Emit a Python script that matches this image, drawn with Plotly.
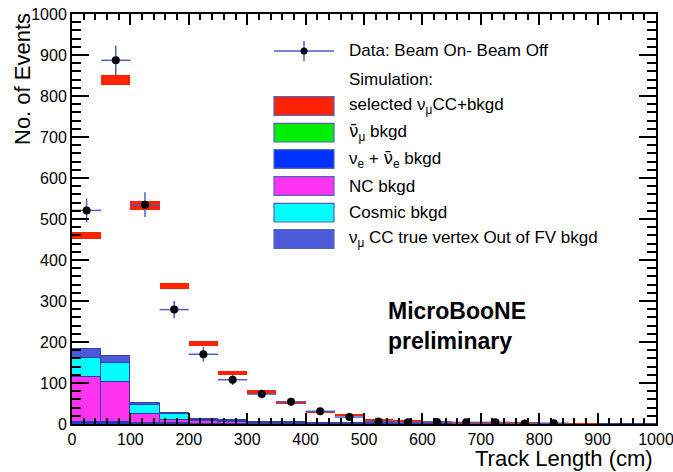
import plotly.graph_objects as go

# ---- binning: 20 bins of 50 cm from 0 to 1000 cm ----
bin_width = 50
bin_centers = [25 + 50 * i for i in range(20)]

# ---- stacked simulated backgrounds (events per bin), bottom to top ----
numubar_bkgd = [1, 1, 0.5, 0.3, 0.2, 0.2, 0.1, 0.1, 0.1, 0.1, 0, 0, 0, 0, 0, 0, 0, 0, 0, 0]
nue_bkgd = [3, 3, 1, 1, 1, 1, 0.5, 0.5, 0.4, 0.3, 0.3, 0.2, 0.2, 0.2, 0.1, 0.1, 0.1, 0, 0, 0]
nc_bkgd = [110, 99, 22, 8, 5, 3, 2, 1.5, 1, 1, 0.5, 0.5, 0.4, 0.3, 0.3, 0.2, 0.2, 0.1, 0.1, 0]
cosmic_bkgd = [47, 47, 22, 15, 4, 3, 2, 1, 1, 1, 0.5, 0.5, 0.4, 0.3, 0.3, 0.2, 0.2, 0.1, 0.1, 0]
oofv_bkgd = [22, 17, 6, 3, 3, 2, 1.5, 1, 1, 1, 0.5, 0.5, 0.4, 0.3, 0.3, 0.2, 0.2, 0.1, 0.1, 0]

# ---- total simulation (selected numu CC + bkgd) and its uncertainty ----
mc_total = [460, 840, 534, 336, 197, 124, 78, 52, 29, 22, 11, 8, 5, 3, 2, 1.5, 1, 0.5, 0, 0]
mc_error = [9, 12, 11, 7, 6, 5, 4, 3, 3, 3, 2, 2, 2, 1.5, 1.5, 1, 1, 1, 0, 0]

# ---- data: Beam On - Beam Off ----
data_centers = bin_centers[:17]
data_values = [521, 887, 535, 279, 170, 108, 73, 54, 31, 17, 6, 4, 5, 4, 4, 1, 2]
data_errors = [29, 36, 30, 21, 18, 13, 11, 9, 7, 6, 4, 4, 3, 3, 3, 2, 2]

# ---- styles ----
C_NUMUBAR = "#00ee00"
C_NUE = "#0033ff"
C_NC = "#ff33f0"
C_COSMIC = "#00ffff"
C_OOFV = "#4b5ad8"
C_RED = "#ff2200"
C_EDGE = "#2f3fa8"
C_DATA_BAR = "#4a5fc4"
FONT = "Liberation Sans, Arial, sans-serif"
NUBAR = '<span style="font-family:DejaVu Sans">ν̄</span>'

fig = go.Figure()

stack = [
    (numubar_bkgd, C_NUMUBAR),
    (nue_bkgd, C_NUE),
    (nc_bkgd, C_NC),
    (cosmic_bkgd, C_COSMIC),
    (oofv_bkgd, C_OOFV),
]
base = [0.0] * len(bin_centers)
for values, color in stack:
    fig.add_trace(go.Bar(
        x=bin_centers, y=values, base=list(base), width=bin_width,
        marker=dict(color=color, line=dict(color=C_EDGE, width=1)),
        showlegend=False,
    ))
    base = [b + v for b, v in zip(base, values)]

# total simulation drawn as an error band
fig.add_trace(go.Bar(
    x=bin_centers,
    y=[2 * e if e > 0 else 0 for e in mc_error],
    base=[t - e for t, e in zip(mc_total, mc_error)],
    width=bin_width,
    marker=dict(color=C_RED, line=dict(width=0)),
    showlegend=False,
))

# data points with bin-width horizontal bars
fig.add_trace(go.Scatter(
    x=data_centers, y=data_values, mode="markers",
    marker=dict(color="black", size=8),
    error_y=dict(type="data", array=data_errors, color=C_DATA_BAR, thickness=1.5, width=0),
    error_x=dict(type="constant", value=bin_width / 2, color=C_DATA_BAR, thickness=1.5, width=0),
    showlegend=False,
))

# ---- plot frame geometry (pixels) ----
L, R, T, B = 72, 656, 14, 424
W, H = R - L, B - T


def px(x):
    return (x - L) / W


def py(y):
    return (B - y) / H


shapes = []
annotations = []

# legend
leg_x0, leg_x1, text_x = 274, 334, 347
leg_font = dict(family=FONT, size=17, color="black")
# data entry
shapes.append(dict(type="line", xref="paper", yref="paper", x0=px(leg_x0), x1=px(leg_x1),
                   y0=py(51), y1=py(51), line=dict(color=C_DATA_BAR, width=1.5)))
shapes.append(dict(type="line", xref="paper", yref="paper", x0=px(304), x1=px(304),
                   y0=py(41), y1=py(61), line=dict(color=C_DATA_BAR, width=1.5)))
shapes.append(dict(type="circle", xref="paper", yref="paper", x0=px(300.5), x1=px(307.5),
                   y0=py(47.5), y1=py(54.5), fillcolor="black", line=dict(color="black", width=0)))
legend_rows = [
    (51, None, "Data: Beam On- Beam Off"),
    (79, None, "Simulation:"),
    (106, C_RED, "selected ν<sub>μ</sub>CC+bkgd"),
    (132.7, C_NUMUBAR, NUBAR + "<sub>μ</sub> bkgd"),
    (159, C_NUE, "ν<sub>e</sub> + " + NUBAR + "<sub>e</sub> bkgd"),
    (186, C_NC, "NC bkgd"),
    (212.7, C_COSMIC, "Cosmic bkgd"),
    (239, C_OOFV, "ν<sub>μ</sub> CC true vertex Out of FV bkgd"),
]
for yc, color, label in legend_rows:
    if color is not None:
        shapes.append(dict(type="rect", xref="paper", yref="paper",
                           x0=px(leg_x0), x1=px(leg_x1), y0=py(yc + 9.3), y1=py(yc - 9.3),
                           fillcolor=color, line=dict(color="#5560c0", width=1.2)))
    annotations.append(dict(xref="paper", yref="paper", x=px(text_x), y=py(yc),
                            xanchor="left", yanchor="middle", text=label, showarrow=False,
                            font=leg_font))

# experiment label
annotations.append(dict(xref="paper", yref="paper", x=px(386), y=py(326),
                        xanchor="left", yanchor="middle", align="left", showarrow=False,
                        text="<b>MicroBooNE</b><br><b>preliminary</b>",
                        font=dict(family=FONT, size=23, color="black")))

# axis titles
annotations.append(dict(xref="paper", yref="paper", x=px(655), y=py(458),
                        xanchor="right", yanchor="middle", text="Track Length (cm)",
                        showarrow=False, font=dict(family=FONT, size=22, color="black")))
annotations.append(dict(xref="paper", yref="paper", x=px(22), y=py(79),
                        xanchor="center", yanchor="middle", text="No. of Events", textangle=-90,
                        showarrow=False, font=dict(family=FONT, size=22, color="black")))

axis_common = dict(
    showline=True, linecolor="black", linewidth=2, mirror="ticks",
    ticks="inside", tickcolor="black", tickwidth=1.5,
    showgrid=False, zeroline=False, dtick=100, tick0=0,
    ticklabeloverflow="allow", automargin=False,
    tickfont=dict(family=FONT, size=16, color="black"),
)

fig.update_layout(
    width=673, height=472,
    margin=dict(l=L, r=673 - R, t=T, b=472 - B, autoexpand=False),
    paper_bgcolor="white", plot_bgcolor="white",
    barmode="overlay", bargap=0,
    showlegend=False,
    shapes=shapes, annotations=annotations,
    xaxis=dict(range=[0, 1000], ticklen=11,
               minor=dict(ticks="inside", ticklen=6, dtick=20, tickcolor="black", tickwidth=1.5),
               **axis_common),
    yaxis=dict(range=[0, 1000], ticklen=17,
               minor=dict(ticks="inside", ticklen=9, dtick=20, tickcolor="black", tickwidth=1.5),
               **axis_common),
)

fig.write_html("out.html")
